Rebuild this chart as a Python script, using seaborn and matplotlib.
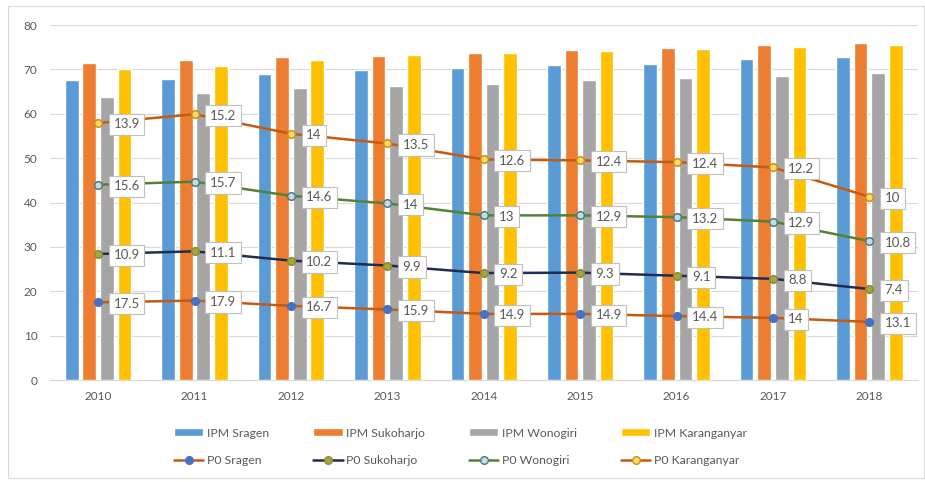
import numpy as np
import pandas as pd
import matplotlib
matplotlib.use("Agg")
import matplotlib.pyplot as plt
import seaborn as sns
from matplotlib.patches import Patch, Rectangle
from matplotlib.lines import Line2D

years = [2010, 2011, 2012, 2013, 2014, 2015, 2016, 2017, 2018]
regions = ["Sragen", "Sukoharjo", "Wonogiri", "Karanganyar"]

ipm_sragen = [67.6, 67.9, 68.9, 69.8, 70.3, 71.1, 71.2, 72.3, 72.8]
ipm_sukoharjo = [71.5, 72.2, 72.8, 73.0, 73.6, 74.3, 74.9, 75.5, 76.0]
ipm_wonogiri = [63.8, 64.6, 65.7, 66.2, 66.7, 67.6, 68.1, 68.5, 69.2]
ipm_karanganyar = [70.2, 70.8, 72.1, 73.2, 73.8, 74.1, 74.5, 75.1, 75.5]

p0_sragen = [17.5, 17.9, 16.7, 15.9, 14.9, 14.9, 14.4, 14.0, 13.1]
p0_sukoharjo = [10.9, 11.1, 10.2, 9.9, 9.2, 9.3, 9.1, 8.8, 7.4]
p0_wonogiri = [15.6, 15.7, 14.6, 14.0, 13.0, 12.9, 13.2, 12.9, 10.8]
p0_karanganyar = [13.9, 15.2, 14.0, 13.5, 12.6, 12.4, 12.4, 12.2, 10.0]

bar_colors = ["#5B9BD5", "#ED7D31", "#A5A5A5", "#FFC000"]
line_colors = ["#C55A11", "#1F2D4E", "#548235", "#C55A11"]
marker_face = ["#4472C4", "#A5A53C", "#C9DCDC", "#FFD966"]
marker_edge = ["#4472C4", "#8C8C3A", "#4A7A8C", "#C9911A"]

ipm = [ipm_sragen, ipm_sukoharjo, ipm_wonogiri, ipm_karanganyar]
p0 = [p0_sragen, p0_sukoharjo, p0_wonogiri, p0_karanganyar]

df = pd.DataFrame({
    "year": np.tile(years, 4),
    "region": np.repeat(["IPM " + r for r in regions], len(years)),
    "ipm": np.concatenate(ipm),
})

sns.set_style("white")
plt.rcParams["font.family"] = ["Lato", "DejaVu Sans"]
txt = "#595959"

fig = plt.figure(figsize=(9.25, 4.82), dpi=100)
ax = fig.add_axes([0.054, 0.2116, 0.938, 0.7365])

sns.barplot(data=df, x="year", y="ipm", hue="region", palette=bar_colors,
            width=0.73, gap=0.22, saturation=1, legend=False, ax=ax)

# P0 series are drawn stacked (like the original Excel stacked line chart)
xs = np.arange(len(years))
cum = np.cumsum(np.array(p0), axis=0)
for i, r in enumerate(regions):
    sns.lineplot(x=xs, y=cum[i], color=line_colors[i], lw=1.8, marker="o",
                 markersize=5.5, markerfacecolor=marker_face[i],
                 markeredgecolor=marker_edge[i], markeredgewidth=1.1, ax=ax,
                 zorder=4)
    for x, y, v in zip(xs, cum[i], p0[i]):
        ax.annotate(f"{v:g}", (x, y), xytext=(11, -1), textcoords="offset points",
                    ha="left", va="center", fontsize=9.5, color=txt, zorder=6,
                    bbox=dict(boxstyle="square,pad=0.35", fc="white",
                              ec="#BFBFBF", lw=0.8))

ax.set_ylim(0, 80)
ax.set_xlim(-0.5, 8.5)
ax.set_yticks(range(0, 81, 10))
ax.set_xticks(xs)
ax.set_xticklabels([str(y) for y in years])
ax.set_xlabel("")
ax.set_ylabel("")
ax.grid(axis="y", color="#D9D9D9", lw=0.8)
ax.set_axisbelow(True)
for s in ["top", "right", "left"]:
    ax.spines[s].set_visible(False)
ax.spines["bottom"].set_color("#D9D9D9")
ax.tick_params(axis="both", length=0, labelsize=8.5, labelcolor=txt, pad=9)
ax.tick_params(axis="x", pad=8)

handles = []
labels = []
for i, r in enumerate(regions):
    handles.append(Patch(facecolor=bar_colors[i]))
    labels.append("IPM " + r)
    handles.append(Line2D([], [], color=line_colors[i], lw=1.8, marker="o",
                          markersize=5.5, markerfacecolor=marker_face[i],
                          markeredgecolor=marker_edge[i]))
    labels.append("P0 " + r)

fig.legend(handles, labels, ncol=4, loc="center", bbox_to_anchor=(0.498, 0.073),
           frameon=False, fontsize=8.8, labelcolor=txt, handlelength=2.4,
           handleheight=0.6, columnspacing=3.6, labelspacing=1.35,
           handletextpad=0.3)

fig.patches.append(Rectangle((8 / 925, 4 / 482), 916 / 925, 472 / 482,
                             transform=fig.transFigure, fill=False,
                             ec="#D9D9D9", lw=0.8))

fig.savefig("out.png", dpi=100)
